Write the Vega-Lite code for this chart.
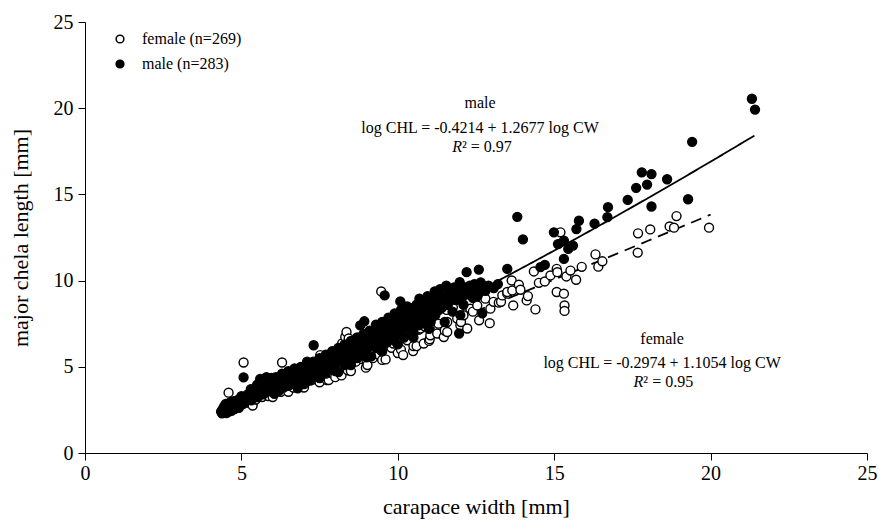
{
"$schema":"https://vega.github.io/schema/vega-lite/v6.json",
"width":782,"height":431,
"autosize":{"type":"none"},
"padding":{"left":85,"top":22,"right":15,"bottom":67},
"background":"white",
"config":{"view":{"stroke":null},"font":"Liberation Serif",
"axis":{"grid":false,"domainColor":"black","tickColor":"black","tickSize":7,"labelFont":"Liberation Serif","labelFontSize":20,"labelColor":"black","titleFont":"Liberation Serif","titleFontSize":22,"titleFontWeight":"normal","titleColor":"black","labelFlush":false,"labelOverlap":false}},
"datasets":{
"pts":[
{"s":"female","x":4.42,"y":2.4},{"s":"female","x":4.48,"y":2.75},{"s":"female","x":4.58,"y":2.85},{"s":"female","x":4.59,"y":3.5},{"s":"female","x":4.66,"y":2.5},{"s":"female","x":4.76,"y":2.8},{"s":"female","x":4.86,"y":2.7},{"s":"female","x":4.96,"y":2.95},{"s":"female","x":5.06,"y":2.85},{"s":"female","x":5.07,"y":5.25},{"s":"female","x":5.16,"y":3.0},{"s":"female","x":5.26,"y":2.9},{"s":"female","x":5.36,"y":2.75},{"s":"female","x":5.46,"y":3.1},{"s":"female","x":5.56,"y":3.35},{"s":"female","x":5.66,"y":3.25},{"s":"female","x":5.76,"y":3.45},{"s":"female","x":5.86,"y":3.3},{"s":"female","x":5.96,"y":3.6},{"s":"female","x":6.0,"y":3.25},{"s":"female","x":6.06,"y":3.45},{"s":"female","x":6.16,"y":3.75},{"s":"female","x":6.26,"y":3.55},{"s":"female","x":6.3,"y":5.25},{"s":"female","x":6.36,"y":3.9},{"s":"female","x":6.46,"y":3.7},{"s":"female","x":6.5,"y":3.55},{"s":"female","x":6.56,"y":4.0},{"s":"female","x":6.66,"y":3.8},{"s":"female","x":6.76,"y":4.2},{"s":"female","x":6.86,"y":3.95},{"s":"female","x":6.88,"y":3.94},{"s":"female","x":6.96,"y":4.35},{"s":"female","x":7.0,"y":3.8},{"s":"female","x":7.06,"y":4.1},{"s":"female","x":7.16,"y":4.45},{"s":"female","x":7.26,"y":4.25},{"s":"female","x":7.36,"y":4.6},{"s":"female","x":7.46,"y":4.4},{"s":"female","x":7.5,"y":4.1},{"s":"female","x":7.52,"y":5.68},{"s":"female","x":7.56,"y":4.75},{"s":"female","x":7.66,"y":4.5},{"s":"female","x":7.73,"y":4.23},{"s":"female","x":7.79,"y":4.23},{"s":"female","x":7.86,"y":4.65},{"s":"female","x":7.96,"y":5.05},{"s":"female","x":8.0,"y":4.4},{"s":"female","x":8.06,"y":4.8},{"s":"female","x":8.16,"y":5.2},{"s":"female","x":8.2,"y":4.5},{"s":"female","x":8.22,"y":6.35},{"s":"female","x":8.26,"y":4.95},{"s":"female","x":8.32,"y":6.73},{"s":"female","x":8.36,"y":7.02},{"s":"female","x":8.4,"y":4.8},{"s":"female","x":8.43,"y":6.64},{"s":"female","x":8.46,"y":5.1},{"s":"female","x":8.5,"y":4.75},{"s":"female","x":8.56,"y":5.55},{"s":"female","x":8.6,"y":6.27},{"s":"female","x":8.66,"y":5.3},{"s":"female","x":8.76,"y":5.7},{"s":"female","x":8.86,"y":5.45},{"s":"female","x":8.96,"y":5.9},{"s":"female","x":8.98,"y":4.95},{"s":"female","x":9.0,"y":5.35},{"s":"female","x":9.03,"y":5.1},{"s":"female","x":9.06,"y":5.6},{"s":"female","x":9.16,"y":6.05},{"s":"female","x":9.2,"y":5.5},{"s":"female","x":9.26,"y":5.8},{"s":"female","x":9.36,"y":6.25},{"s":"female","x":9.4,"y":5.7},{"s":"female","x":9.46,"y":5.95},{"s":"female","x":9.47,"y":9.37},{"s":"female","x":9.5,"y":5.4},{"s":"female","x":9.56,"y":6.45},{"s":"female","x":9.61,"y":5.43},{"s":"female","x":9.66,"y":6.45},{"s":"female","x":9.76,"y":6.85},{"s":"female","x":9.8,"y":6.1},{"s":"female","x":9.86,"y":6.35},{"s":"female","x":9.98,"y":6.64},{"s":"female","x":10.0,"y":5.8},{"s":"female","x":10.06,"y":6.6},{"s":"female","x":10.1,"y":6.0},{"s":"female","x":10.17,"y":5.68},{"s":"female","x":10.26,"y":6.8},{"s":"female","x":10.3,"y":6.54},{"s":"female","x":10.36,"y":7.4},{"s":"female","x":10.46,"y":7.0},{"s":"female","x":10.49,"y":5.91},{"s":"female","x":10.5,"y":6.2},{"s":"female","x":10.51,"y":7.8},{"s":"female","x":10.6,"y":6.2},{"s":"female","x":10.66,"y":7.15},{"s":"female","x":10.72,"y":7.22},{"s":"female","x":10.83,"y":6.35},{"s":"female","x":10.86,"y":7.35},{"s":"female","x":10.96,"y":7.8},{"s":"female","x":11.0,"y":6.5},{"s":"female","x":11.02,"y":6.6},{"s":"female","x":11.04,"y":6.83},{"s":"female","x":11.04,"y":8.37},{"s":"female","x":11.16,"y":8.0},{"s":"female","x":11.26,"y":6.93},{"s":"female","x":11.3,"y":7.5},{"s":"female","x":11.36,"y":8.85},{"s":"female","x":11.47,"y":6.73},{"s":"female","x":11.5,"y":7.1},{"s":"female","x":11.56,"y":8.3},{"s":"female","x":11.58,"y":7.02},{"s":"female","x":11.58,"y":7.6},{"s":"female","x":11.68,"y":9.24},{"s":"female","x":11.76,"y":8.45},{"s":"female","x":11.9,"y":7.8},{"s":"female","x":12.0,"y":7.41},{"s":"female","x":12.02,"y":7.6},{"s":"female","x":12.1,"y":7.99},{"s":"female","x":12.22,"y":7.22},{"s":"female","x":12.32,"y":8.37},{"s":"female","x":12.4,"y":8.2},{"s":"female","x":12.54,"y":8.56},{"s":"female","x":12.6,"y":7.7},{"s":"female","x":12.8,"y":8.95},{"s":"female","x":12.94,"y":7.53},{"s":"female","x":12.96,"y":8.37},{"s":"female","x":13.06,"y":8.77},{"s":"female","x":13.23,"y":8.72},{"s":"female","x":13.3,"y":8.77},{"s":"female","x":13.34,"y":9.14},{"s":"female","x":13.5,"y":9.24},{"s":"female","x":13.5,"y":9.34},{"s":"female","x":13.64,"y":10.01},{"s":"female","x":13.66,"y":9.43},{"s":"female","x":13.69,"y":8.56},{"s":"female","x":13.87,"y":9.76},{"s":"female","x":13.92,"y":9.47},{"s":"female","x":14.12,"y":8.85},{"s":"female","x":14.16,"y":9.1},{"s":"female","x":14.35,"y":10.53},{"s":"female","x":14.4,"y":8.33},{"s":"female","x":14.51,"y":9.87},{"s":"female","x":14.7,"y":9.95},{"s":"female","x":14.88,"y":10.3},{"s":"female","x":15.08,"y":10.68},{"s":"female","x":15.1,"y":10.49},{"s":"female","x":15.08,"y":9.34},{"s":"female","x":15.2,"y":12.8},{"s":"female","x":15.31,"y":9.24},{"s":"female","x":15.33,"y":8.56},{"s":"female","x":15.33,"y":8.24},{"s":"female","x":15.39,"y":10.24},{"s":"female","x":15.52,"y":10.58},{"s":"female","x":15.7,"y":10.05},{"s":"female","x":15.88,"y":10.8},{"s":"female","x":16.32,"y":11.52},{"s":"female","x":16.41,"y":10.81},{"s":"female","x":16.54,"y":11.12},{"s":"female","x":17.67,"y":11.62},{"s":"female","x":17.68,"y":12.74},{"s":"female","x":18.07,"y":12.97},{"s":"female","x":18.69,"y":13.14},{"s":"female","x":18.83,"y":13.07},{"s":"female","x":18.91,"y":13.74},{"s":"female","x":19.95,"y":13.07},
{"s":"male","x":4.35,"y":2.4},{"s":"male","x":4.38,"y":2.3},{"s":"male","x":4.4,"y":2.55},{"s":"male","x":4.42,"y":2.35},{"s":"male","x":4.45,"y":2.7},{"s":"male","x":4.48,"y":2.42},{"s":"male","x":4.5,"y":2.5},{"s":"male","x":4.5,"y":2.85},{"s":"male","x":4.52,"y":2.32},{"s":"male","x":4.55,"y":2.6},{"s":"male","x":4.6,"y":2.4},{"s":"male","x":4.6,"y":2.75},{"s":"male","x":4.62,"y":2.52},{"s":"male","x":4.65,"y":2.95},{"s":"male","x":4.68,"y":2.45},{"s":"male","x":4.7,"y":2.6},{"s":"male","x":4.7,"y":2.8},{"s":"male","x":4.72,"y":2.7},{"s":"male","x":4.75,"y":3.0},{"s":"male","x":4.78,"y":2.55},{"s":"male","x":4.8,"y":2.7},{"s":"male","x":4.85,"y":2.9},{"s":"male","x":4.88,"y":2.75},{"s":"male","x":4.9,"y":3.1},{"s":"male","x":4.92,"y":2.62},{"s":"male","x":4.95,"y":2.8},{"s":"male","x":5.0,"y":3.0},{"s":"male","x":5.0,"y":3.3},{"s":"male","x":5.02,"y":2.85},{"s":"male","x":5.05,"y":2.9},{"s":"male","x":5.07,"y":4.39},{"s":"male","x":5.1,"y":3.2},{"s":"male","x":5.12,"y":2.95},{"s":"male","x":5.15,"y":3.05},{"s":"male","x":5.2,"y":3.4},{"s":"male","x":5.22,"y":3.1},{"s":"male","x":5.25,"y":3.15},{"s":"male","x":5.3,"y":3.3},{"s":"male","x":5.3,"y":3.7},{"s":"male","x":5.32,"y":3.05},{"s":"male","x":5.35,"y":3.55},{"s":"male","x":5.4,"y":3.2},{"s":"male","x":5.42,"y":3.35},{"s":"male","x":5.45,"y":3.4},{"s":"male","x":5.5,"y":3.6},{"s":"male","x":5.5,"y":3.95},{"s":"male","x":5.52,"y":3.25},{"s":"male","x":5.55,"y":3.3},{"s":"male","x":5.6,"y":4.3},{"s":"male","x":5.6,"y":3.5},{"s":"male","x":5.62,"y":3.45},{"s":"male","x":5.65,"y":3.75},{"s":"male","x":5.7,"y":3.4},{"s":"male","x":5.7,"y":4.1},{"s":"male","x":5.72,"y":3.65},{"s":"male","x":5.75,"y":3.9},{"s":"male","x":5.8,"y":4.4},{"s":"male","x":5.82,"y":3.55},{"s":"male","x":5.85,"y":3.6},{"s":"male","x":5.9,"y":3.85},{"s":"male","x":5.9,"y":4.2},{"s":"male","x":5.92,"y":3.75},{"s":"male","x":5.95,"y":4.35},{"s":"male","x":6.0,"y":3.7},{"s":"male","x":6.0,"y":4.05},{"s":"male","x":6.02,"y":3.9},{"s":"male","x":6.05,"y":3.45},{"s":"male","x":6.1,"y":3.9},{"s":"male","x":6.1,"y":4.4},{"s":"male","x":6.12,"y":3.65},{"s":"male","x":6.15,"y":4.2},{"s":"male","x":6.2,"y":3.6},{"s":"male","x":6.22,"y":4.1},{"s":"male","x":6.25,"y":4.0},{"s":"male","x":6.3,"y":4.3},{"s":"male","x":6.3,"y":4.6},{"s":"male","x":6.32,"y":3.95},{"s":"male","x":6.35,"y":3.8},{"s":"male","x":6.4,"y":4.1},{"s":"male","x":6.42,"y":4.25},{"s":"male","x":6.45,"y":4.5},{"s":"male","x":6.5,"y":3.9},{"s":"male","x":6.5,"y":4.75},{"s":"male","x":6.52,"y":4.15},{"s":"male","x":6.55,"y":4.3},{"s":"male","x":6.6,"y":4.0},{"s":"male","x":6.62,"y":4.4},{"s":"male","x":6.65,"y":4.6},{"s":"male","x":6.7,"y":4.2},{"s":"male","x":6.7,"y":4.9},{"s":"male","x":6.72,"y":4.05},{"s":"male","x":6.75,"y":4.45},{"s":"male","x":6.8,"y":3.75},{"s":"male","x":6.82,"y":4.55},{"s":"male","x":6.85,"y":4.7},{"s":"male","x":6.9,"y":4.3},{"s":"male","x":6.9,"y":5.0},{"s":"male","x":6.92,"y":4.4},{"s":"male","x":6.95,"y":4.55},{"s":"male","x":7.0,"y":4.85},{"s":"male","x":7.0,"y":4.0},{"s":"male","x":7.02,"y":4.65},{"s":"male","x":7.05,"y":4.4},{"s":"male","x":7.1,"y":5.3},{"s":"male","x":7.12,"y":4.45},{"s":"male","x":7.15,"y":4.6},{"s":"male","x":7.2,"y":4.2},{"s":"male","x":7.22,"y":4.75},{"s":"male","x":7.25,"y":4.9},{"s":"male","x":7.3,"y":5.3},{"s":"male","x":7.31,"y":6.25},{"s":"male","x":7.32,"y":5.0},{"s":"male","x":7.35,"y":4.7},{"s":"male","x":7.4,"y":5.1},{"s":"male","x":7.42,"y":4.8},{"s":"male","x":7.45,"y":4.5},{"s":"male","x":7.5,"y":5.0},{"s":"male","x":7.5,"y":4.35},{"s":"male","x":7.5,"y":5.5},{"s":"male","x":7.52,"y":5.2},{"s":"male","x":7.55,"y":5.35},{"s":"male","x":7.6,"y":4.8},{"s":"male","x":7.62,"y":5.05},{"s":"male","x":7.65,"y":5.2},{"s":"male","x":7.7,"y":4.6},{"s":"male","x":7.7,"y":5.7},{"s":"male","x":7.72,"y":5.3},{"s":"male","x":7.75,"y":5.5},{"s":"male","x":7.8,"y":5.05},{"s":"male","x":7.82,"y":5.2},{"s":"male","x":7.85,"y":5.3},{"s":"male","x":7.9,"y":4.9},{"s":"male","x":7.9,"y":5.9},{"s":"male","x":7.92,"y":5.45},{"s":"male","x":7.95,"y":5.6},{"s":"male","x":8.0,"y":5.2},{"s":"male","x":8.0,"y":4.75},{"s":"male","x":8.02,"y":5.6},{"s":"male","x":8.05,"y":5.5},{"s":"male","x":8.1,"y":4.7},{"s":"male","x":8.1,"y":6.1},{"s":"male","x":8.12,"y":5.4},{"s":"male","x":8.15,"y":5.8},{"s":"male","x":8.2,"y":5.35},{"s":"male","x":8.22,"y":5.7},{"s":"male","x":8.25,"y":5.6},{"s":"male","x":8.3,"y":5.1},{"s":"male","x":8.3,"y":6.3},{"s":"male","x":8.32,"y":5.55},{"s":"male","x":8.35,"y":6.0},{"s":"male","x":8.4,"y":5.5},{"s":"male","x":8.42,"y":6.2},{"s":"male","x":8.45,"y":5.8},{"s":"male","x":8.5,"y":5.3},{"s":"male","x":8.5,"y":5.1},{"s":"male","x":8.5,"y":6.5},{"s":"male","x":8.52,"y":5.9},{"s":"male","x":8.55,"y":6.1},{"s":"male","x":8.6,"y":5.7},{"s":"male","x":8.62,"y":6.05},{"s":"male","x":8.65,"y":6.3},{"s":"male","x":8.7,"y":5.5},{"s":"male","x":8.7,"y":6.7},{"s":"male","x":8.72,"y":6.4},{"s":"male","x":8.75,"y":5.9},{"s":"male","x":8.8,"y":7.4},{"s":"male","x":8.82,"y":6.0},{"s":"male","x":8.85,"y":6.2},{"s":"male","x":8.9,"y":5.75},{"s":"male","x":8.9,"y":6.9},{"s":"male","x":8.92,"y":6.3},{"s":"male","x":8.93,"y":7.64},{"s":"male","x":8.95,"y":6.5},{"s":"male","x":9.0,"y":6.0},{"s":"male","x":9.0,"y":5.55},{"s":"male","x":9.02,"y":6.55},{"s":"male","x":9.05,"y":6.8},{"s":"male","x":9.1,"y":6.25},{"s":"male","x":9.1,"y":7.1},{"s":"male","x":9.12,"y":6.4},{"s":"male","x":9.15,"y":5.6},{"s":"male","x":9.2,"y":6.6},{"s":"male","x":9.22,"y":6.9},{"s":"male","x":9.25,"y":7.0},{"s":"male","x":9.3,"y":6.1},{"s":"male","x":9.3,"y":7.45},{"s":"male","x":9.32,"y":6.75},{"s":"male","x":9.35,"y":6.45},{"s":"male","x":9.4,"y":7.2},{"s":"male","x":9.42,"y":6.5},{"s":"male","x":9.45,"y":6.7},{"s":"male","x":9.5,"y":6.2},{"s":"male","x":9.5,"y":5.9},{"s":"male","x":9.5,"y":7.6},{"s":"male","x":9.52,"y":7.1},{"s":"male","x":9.55,"y":7.5},{"s":"male","x":9.58,"y":9.14},{"s":"male","x":9.6,"y":6.9},{"s":"male","x":9.62,"y":7.25},{"s":"male","x":9.65,"y":6.4},{"s":"male","x":9.7,"y":7.3},{"s":"male","x":9.7,"y":7.85},{"s":"male","x":9.72,"y":6.95},{"s":"male","x":9.75,"y":6.7},{"s":"male","x":9.8,"y":7.7},{"s":"male","x":9.82,"y":7.4},{"s":"male","x":9.85,"y":7.0},{"s":"male","x":9.9,"y":6.5},{"s":"male","x":9.9,"y":8.1},{"s":"male","x":9.92,"y":7.95},{"s":"male","x":9.94,"y":7.15},{"s":"male","x":9.95,"y":7.3},{"s":"male","x":10.0,"y":6.9},{"s":"male","x":10.0,"y":6.3},{"s":"male","x":10.02,"y":7.8},{"s":"male","x":10.05,"y":7.6},{"s":"male","x":10.08,"y":8.79},{"s":"male","x":10.1,"y":7.1},{"s":"male","x":10.1,"y":8.3},{"s":"male","x":10.12,"y":7.4},{"s":"male","x":10.15,"y":8.1},{"s":"male","x":10.2,"y":6.7},{"s":"male","x":10.22,"y":8.0},{"s":"male","x":10.25,"y":7.5},{"s":"male","x":10.3,"y":7.9},{"s":"male","x":10.3,"y":8.5},{"s":"male","x":10.32,"y":7.65},{"s":"male","x":10.35,"y":7.2},{"s":"male","x":10.4,"y":8.4},{"s":"male","x":10.42,"y":8.2},{"s":"male","x":10.45,"y":7.6},{"s":"male","x":10.5,"y":7.0},{"s":"male","x":10.5,"y":6.7},{"s":"male","x":10.52,"y":7.85},{"s":"male","x":10.55,"y":8.0},{"s":"male","x":10.6,"y":8.6},{"s":"male","x":10.62,"y":8.35},{"s":"male","x":10.65,"y":7.4},{"s":"male","x":10.69,"y":8.95},{"s":"male","x":10.7,"y":7.8},{"s":"male","x":10.72,"y":8.1},{"s":"male","x":10.75,"y":8.3},{"s":"male","x":10.8,"y":7.5},{"s":"male","x":10.82,"y":8.5},{"s":"male","x":10.85,"y":8.7},{"s":"male","x":10.9,"y":8.0},{"s":"male","x":10.92,"y":8.4},{"s":"male","x":10.95,"y":9.1},{"s":"male","x":11.0,"y":8.2},{"s":"male","x":11.0,"y":7.2},{"s":"male","x":11.02,"y":8.9},{"s":"male","x":11.05,"y":7.6},{"s":"male","x":11.1,"y":8.5},{"s":"male","x":11.12,"y":8.7},{"s":"male","x":11.18,"y":9.37},{"s":"male","x":11.2,"y":8.0},{"s":"male","x":11.22,"y":9.2},{"s":"male","x":11.3,"y":8.8},{"s":"male","x":11.32,"y":8.3},{"s":"male","x":11.35,"y":9.5},{"s":"male","x":11.4,"y":8.4},{"s":"male","x":11.42,"y":9.0},{"s":"male","x":11.5,"y":9.0},{"s":"male","x":11.5,"y":7.6},{"s":"male","x":11.52,"y":8.7},{"s":"male","x":11.55,"y":9.7},{"s":"male","x":11.6,"y":8.6},{"s":"male","x":11.62,"y":9.3},{"s":"male","x":11.7,"y":9.3},{"s":"male","x":11.72,"y":8.9},{"s":"male","x":11.75,"y":8.2},{"s":"male","x":11.8,"y":9.6},{"s":"male","x":11.82,"y":9.2},{"s":"male","x":11.85,"y":8.87},{"s":"male","x":11.9,"y":8.9},{"s":"male","x":11.92,"y":9.5},{"s":"male","x":11.96,"y":6.93},{"s":"male","x":11.98,"y":9.91},{"s":"male","x":12.0,"y":9.4},{"s":"male","x":12.0,"y":8.0},{"s":"male","x":12.05,"y":9.0},{"s":"male","x":12.1,"y":8.6},{"s":"male","x":12.15,"y":9.6},{"s":"male","x":12.2,"y":10.49},{"s":"male","x":12.25,"y":9.2},{"s":"male","x":12.3,"y":9.7},{"s":"male","x":12.35,"y":9.4},{"s":"male","x":12.4,"y":9.0},{"s":"male","x":12.45,"y":9.8},{"s":"male","x":12.5,"y":9.5},{"s":"male","x":12.55,"y":9.1},{"s":"male","x":12.59,"y":10.64},{"s":"male","x":12.6,"y":9.3},{"s":"male","x":12.65,"y":9.9},{"s":"male","x":12.7,"y":9.6},{"s":"male","x":12.7,"y":8.1},{"s":"male","x":12.75,"y":9.55},{"s":"male","x":12.8,"y":9.4},{"s":"male","x":12.9,"y":9.7},{"s":"male","x":13.07,"y":9.57},{"s":"male","x":13.2,"y":9.8},{"s":"male","x":13.5,"y":10.68},{"s":"male","x":13.82,"y":13.7},{"s":"male","x":14.0,"y":12.39},{"s":"male","x":14.56,"y":10.78},{"s":"male","x":14.7,"y":10.91},{"s":"male","x":14.99,"y":12.8},{"s":"male","x":15.12,"y":12.12},{"s":"male","x":15.31,"y":12.32},{"s":"male","x":15.31,"y":11.26},{"s":"male","x":15.45,"y":11.84},{"s":"male","x":15.6,"y":12.03},{"s":"male","x":15.71,"y":12.99},{"s":"male","x":15.79,"y":13.47},{"s":"male","x":16.29,"y":13.3},{"s":"male","x":16.7,"y":13.68},{"s":"male","x":16.72,"y":14.26},{"s":"male","x":17.35,"y":14.68},{"s":"male","x":17.62,"y":15.38},{"s":"male","x":17.8,"y":16.28},{"s":"male","x":17.97,"y":15.57},{"s":"male","x":18.11,"y":16.18},{"s":"male","x":18.11,"y":14.3},{"s":"male","x":18.61,"y":15.88},{"s":"male","x":19.28,"y":14.72},{"s":"male","x":19.41,"y":18.05},{"s":"male","x":21.32,"y":20.55},{"s":"male","x":21.42,"y":19.92}
],
"fit":[
{"g":"male","x":4.4,"y":2.48},{"g":"male","x":6,"y":3.67},{"g":"male","x":8,"y":5.29},{"g":"male","x":10,"y":7.02},{"g":"male","x":12,"y":8.85},{"g":"male","x":14,"y":10.76},{"g":"male","x":16,"y":12.74},{"g":"male","x":18,"y":14.79},{"g":"male","x":20,"y":16.9},{"g":"male","x":21.4,"y":18.41},
{"g":"female","x":4.4,"y":2.59},{"g":"female","x":6,"y":3.65},{"g":"female","x":8,"y":5.02},{"g":"female","x":10,"y":6.43},{"g":"female","x":12,"y":7.86},{"g":"female","x":14,"y":9.32},{"g":"female","x":16,"y":10.81},{"g":"female","x":18,"y":12.31},{"g":"female","x":20,"y":13.83}
],
"ann":[
{"k":"c","x":12.63,"y":20.01,"t":"male"},
{"k":"c","x":12.63,"y":18.56,"t":"log CHL = -0.4214 + 1.2677 log CW"},
{"k":"r","x":12.05,"y":17.46,"t":"R"},
{"k":"l","x":12.05,"y":17.46,"t":"² = 0.97"},
{"k":"c","x":18.45,"y":6.32,"t":"female"},
{"k":"c","x":18.45,"y":4.93,"t":"log CHL = -0.2974 + 1.1054 log CW"},
{"k":"r","x":17.85,"y":3.83,"t":"R"},
{"k":"l","x":17.85,"y":3.83,"t":"² = 0.95"}
]
},
"layer":[
{"data":{"name":"fit"},
"mark":{"type":"line","color":"black","strokeWidth":1.8,"interpolate":"monotone"},
"encoding":{
"x":{"field":"x","type":"quantitative","scale":{"domain":[0,25],"nice":false},
"axis":{"values":[0,5,10,15,20,25],"title":"carapace width [mm]","labelPadding":3,"titlePadding":13}},
"y":{"field":"y","type":"quantitative","scale":{"domain":[0,25],"nice":false},
"axis":{"values":[0,5,10,15,20,25],"title":"major chela length [mm]","labelPadding":5,"titlePadding":21}},
"detail":{"field":"g"},
"strokeDash":{"field":"g","type":"nominal","scale":{"domain":["male","female"],"range":[[1,0],[11,7]]},"legend":null}
}},
{"data":{"name":"pts"},
"mark":{"type":"circle","size":80,"stroke":"black","strokeWidth":1.4,"opacity":1},
"encoding":{
"x":{"field":"x","type":"quantitative"},
"y":{"field":"y","type":"quantitative"},
"fill":{"field":"s","type":"nominal","scale":{"domain":["female","male"],"range":["white","black"]},
"legend":{"orient":"none","legendX":27,"legendY":9,"title":null,"labelExpr":"datum.label == 'female' ? 'female (n=269)' : 'male (n=283)'","labelFont":"Liberation Serif","labelFontSize":16,"labelColor":"black","symbolType":"circle","symbolSize":60,"symbolStrokeColor":"black","symbolStrokeWidth":1.5,"rowPadding":9,"labelOffset":14}}
}},
{"data":{"name":"ann"},"transform":[{"filter":"datum.k == 'c'"}],
"mark":{"type":"text","font":"Liberation Serif","fontSize":16,"color":"black","align":"center","baseline":"alphabetic"},
"encoding":{"x":{"field":"x","type":"quantitative"},"y":{"field":"y","type":"quantitative"},"text":{"field":"t"}}},
{"data":{"name":"ann"},"transform":[{"filter":"datum.k == 'r'"}],
"mark":{"type":"text","font":"Liberation Serif","fontSize":16,"fontStyle":"italic","color":"black","align":"right","baseline":"alphabetic"},
"encoding":{"x":{"field":"x","type":"quantitative"},"y":{"field":"y","type":"quantitative"},"text":{"field":"t"}}},
{"data":{"name":"ann"},"transform":[{"filter":"datum.k == 'l'"}],
"mark":{"type":"text","font":"Liberation Serif","fontSize":16,"color":"black","align":"left","baseline":"alphabetic"},
"encoding":{"x":{"field":"x","type":"quantitative"},"y":{"field":"y","type":"quantitative"},"text":{"field":"t"}}}
]
}
